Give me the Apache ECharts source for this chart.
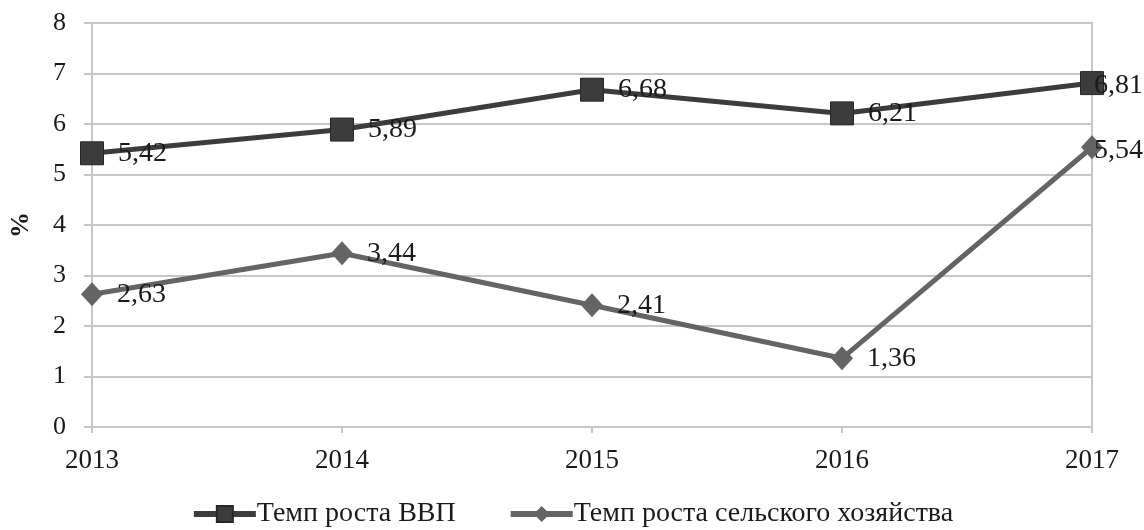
<!DOCTYPE html>
<html>
<head>
<meta charset="utf-8">
<script src="https://cdn.jsdelivr.net/npm/echarts@6/dist/echarts.min.js"></script>
<style>
	html, body { margin: 0; padding: 0; background: #fff; }
	#container { width: 1144px; height: 530px; }
</style>
</head>
<body>
<div id="container"></div>
<script>
var years = ['2013', '2014', '2015', '2016', '2017'];
var gdpGrowth = [5.42, 5.89, 6.68, 6.21, 6.81];
var agriGrowth = [2.63, 3.44, 2.41, 1.36, 5.54];
var seriesNames = ['Темп роста ВВП', 'Темп роста сельского хозяйства'];
var seriesColors = ['#3c3c3c', '#646464'];

var font = 'Liberation Serif';
var gridGray = '#c6c6c6';
var textColor = '#1a1a1a';

function fmt(p) {
	return p.value.toFixed(2).replace('.', ',');
}

function makeLabel() {
	return {
		show: true,
		position: 'right',
		align: 'left',
		verticalAlign: 'middle',
		distance: 14,
		offset: [0, 3],
		formatter: fmt,
		fontFamily: font,
		fontSize: 28,
		color: textColor
	};
}

var dom = document.getElementById('container');
var myChart = echarts.init(dom);
var option = {
	backgroundColor: '#fff',
	animation: false,
	grid: {
		left: 85,
		right: 52,
		top: 23,
		bottom: 103,
		show: true,
		borderColor: gridGray,
		borderWidth: 2
	},
	legend: {
		bottom: -3,
		left: 'center',
		itemGap: 52,
		itemWidth: 62,
		itemHeight: 20,
		textStyle: { fontFamily: font, fontSize: 28, color: textColor, padding: [0, 0, 0, -4] },
		data: [
			{ name: seriesNames[0], lineStyle: { width: 6, color: seriesColors[0] } },
			{ name: seriesNames[1], lineStyle: { width: 6, color: seriesColors[1] } }
		]
	},
	xAxis: {
		type: 'category',
		boundaryGap: false,
		data: years,
		axisLine: { lineStyle: { color: gridGray, width: 2 } },
		axisTick: { show: true, length: 6, lineStyle: { color: gridGray, width: 2 } },
		axisLabel: { fontFamily: font, fontSize: 27, color: textColor, margin: 20 }
	},
	yAxis: {
		type: 'value',
		min: 0,
		max: 8,
		interval: 1,
		name: '%',
		nameLocation: 'middle',
		nameGap: 58,
		nameRotate: 90,
		nameTextStyle: { fontFamily: font, fontSize: 26, fontWeight: 'bold', color: textColor },
		axisLine: { show: true, lineStyle: { color: gridGray, width: 2 } },
		axisTick: { show: true, length: 8, lineStyle: { color: gridGray, width: 2 } },
		axisLabel: { fontFamily: font, fontSize: 26, color: textColor, margin: 26 },
		splitLine: { lineStyle: { color: gridGray, width: 2 } }
	},
	series: [
		{
			name: seriesNames[0],
			type: 'line',
			data: gdpGrowth,
			symbol: 'rect',
			symbolSize: 23,
			lineStyle: { color: seriesColors[0], width: 5 },
			itemStyle: { color: seriesColors[0], borderColor: '#262626', borderWidth: 1 },
			label: makeLabel()
		},
		{
			name: seriesNames[1],
			type: 'line',
			data: agriGrowth,
			symbol: 'diamond',
			symbolSize: [22, 24],
			lineStyle: { color: seriesColors[1], width: 5 },
			itemStyle: { color: seriesColors[1] },
			label: makeLabel()
		}
	],
	// keep labels inside the chart, like the original does at the right edge
	labelLayout: function (params) {
		var r = params.labelRect;
		if (r.x + r.width > 1143) {
			return {
				x: 1143 - r.width,
				y: r.y + r.height / 2,
				align: 'left',
				verticalAlign: 'middle'
			};
		}
	}
};
myChart.setOption(option, true);
</script>
</body>
</html>
